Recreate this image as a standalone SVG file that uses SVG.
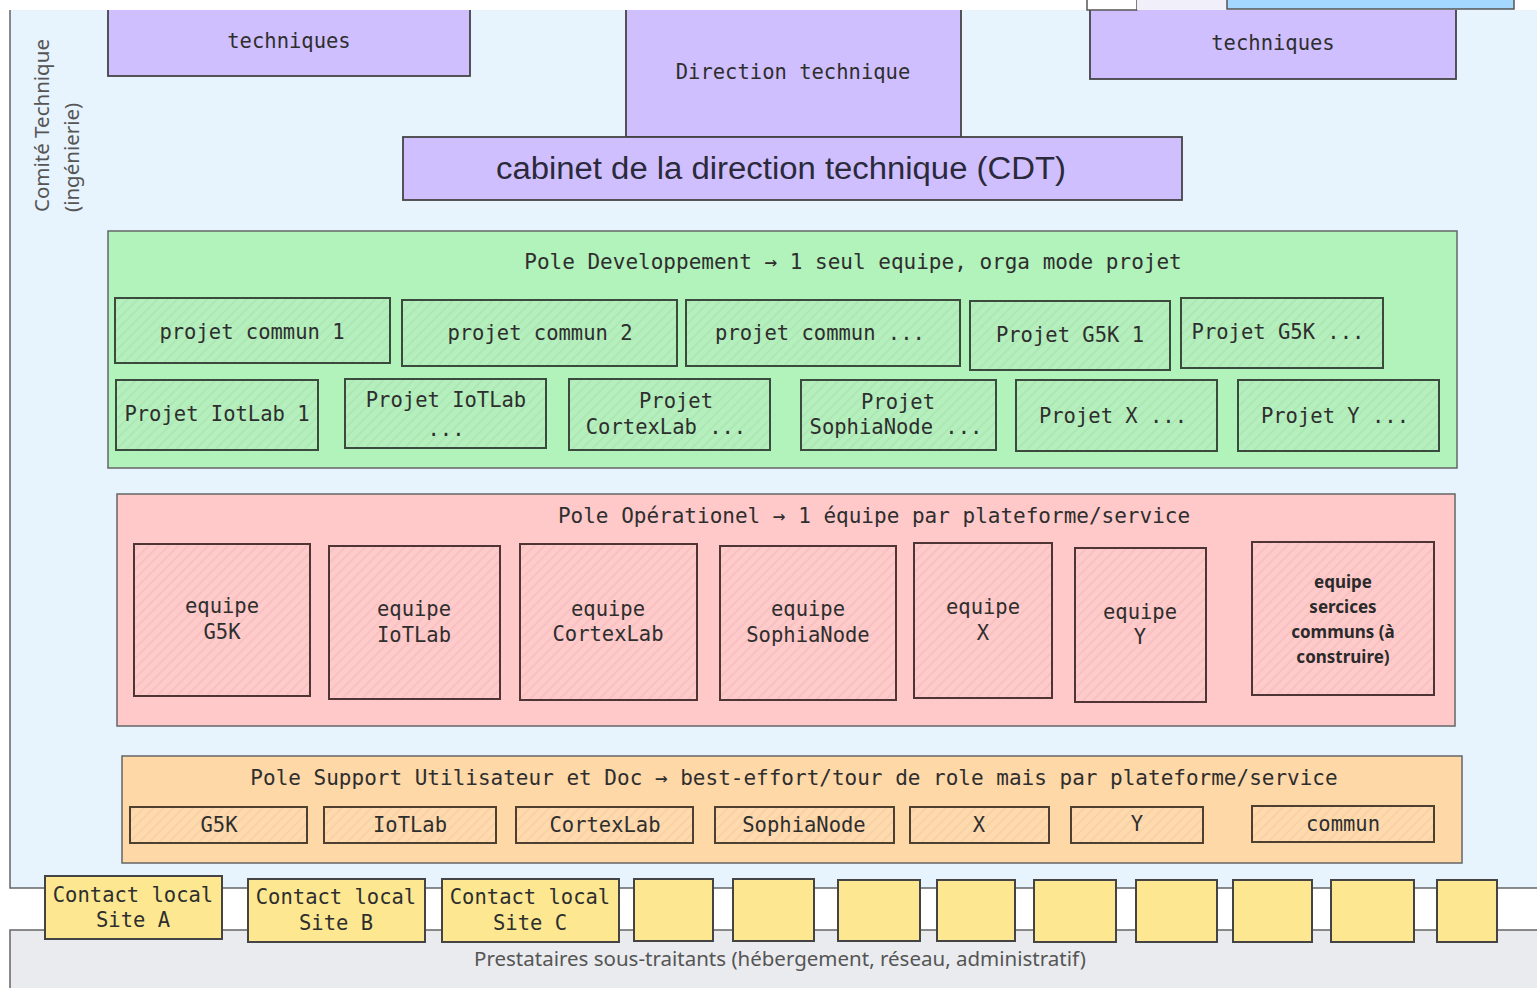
<svg xmlns="http://www.w3.org/2000/svg" width="1537" height="988" viewBox="0 0 1537 988">
<defs>
<pattern id="hatchG" patternUnits="userSpaceOnUse" width="7" height="7" patternTransform="rotate(45)">
<rect width="7" height="7" fill="#b5efbd"/><line x1="1" y1="0" x2="1" y2="7" stroke="#a3dfac" stroke-width="1"/>
</pattern>
<pattern id="hatchR" patternUnits="userSpaceOnUse" width="7" height="7" patternTransform="rotate(45)">
<rect width="7" height="7" fill="#ffcaca"/><line x1="1" y1="0" x2="1" y2="7" stroke="#f2b8b8" stroke-width="1"/>
</pattern>
<pattern id="hatchO" patternUnits="userSpaceOnUse" width="7" height="7" patternTransform="rotate(45)">
<rect width="7" height="7" fill="#ffdaae"/><line x1="1" y1="0" x2="1" y2="7" stroke="#f2ca98" stroke-width="1"/>
</pattern>
</defs>
<style>
.mono{font-family:"DejaVu Sans Mono","Liberation Mono",monospace;font-size:20.5px;fill:#2e2e2e;text-anchor:middle}
.title{font-family:"DejaVu Sans Mono","Liberation Mono",monospace;font-size:21px;fill:#2e2e2e;text-anchor:middle}
.sans{font-family:"Noto Sans","Liberation Sans",sans-serif;fill:#555}
.bold{font-family:"Noto Sans","Liberation Sans",sans-serif;font-weight:bold;font-size:17px;fill:#2a2a2a;text-anchor:middle}
.cont{stroke:#666;stroke-width:1.5}
.purple{fill:#d0bfff;stroke:#444;stroke-width:1.8}
.gbox{fill:url(#hatchG);stroke:#3a4a3c;stroke-width:2}
.rbox{fill:url(#hatchR);stroke:#4e3434;stroke-width:2}
.obox{fill:url(#hatchO);stroke:#4e4030;stroke-width:2}
.ybox{fill:#fde891;stroke:#444;stroke-width:2}
</style>

<g id="comite-technique">
<rect x="10" y="-10" width="1600" height="898" fill="#e7f3fd" class="cont"/>
<text class="sans" font-size="20.5" transform="translate(49,212) rotate(-90)">Comité Technique</text>
<text class="sans" font-size="20.5" transform="translate(79,212) rotate(-90)">(ingénierie)</text>
</g>

<g id="prestataires">
<rect x="10" y="930" width="1600" height="100" fill="#e9ebee" class="cont"/>
<text class="sans" font-size="19" x="780" y="966" text-anchor="middle" textLength="612" lengthAdjust="spacingAndGlyphs">Prestataires sous-traitants (hébergement, réseau, administratif)</text>
</g>

<g id="techniques-left">
<rect x="108" y="-10" width="362" height="86" class="purple"/>
<text class="mono" x="289" y="48">techniques</text>
</g>
<g id="direction-technique">
<rect x="626" y="-10" width="335" height="147" class="purple"/>
<text class="mono" x="793" y="79">Direction technique</text>
</g>
<g id="techniques-right">
<rect x="1090" y="-10" width="366" height="89" class="purple"/>
<text class="mono" x="1273" y="50">techniques</text>
</g>
<g id="cdt">
<rect x="403" y="137" width="779" height="63" class="purple"/>
<text x="781" y="179" font-family="Liberation Sans, Arial, sans-serif" font-size="31" fill="#2a2a3a" text-anchor="middle" textLength="570" lengthAdjust="spacingAndGlyphs">cabinet de la direction technique (CDT)</text>
</g>

<g id="top-strip">
<rect x="0" y="0" width="1537" height="10" fill="#ffffff"/>
<rect x="1087" y="-5" width="50" height="15" fill="#ffffff" stroke="#555" stroke-width="1.5"/>
<rect x="1137" y="-5" width="90" height="15" fill="#f1effa"/>
<rect x="1227" y="-5" width="287" height="14" fill="#a5d8ff" stroke="#555" stroke-width="1.5"/>
</g>

<g id="pole-developpement">
<rect x="108" y="231" width="1349" height="237" fill="#b2f2bb" class="cont"/>
<text class="title" x="853" y="269">Pole Developpement → 1 seul equipe, orga mode projet</text>
</g>
<g id="projet-commun-1"><rect x="115" y="298" width="275" height="65" class="gbox"/><text class="mono" x="252" y="339">projet commun 1</text></g>
<g id="projet-commun-2"><rect x="402" y="300" width="275" height="66" class="gbox"/><text class="mono" x="540" y="340">projet commun 2</text></g>
<g id="projet-commun-etc"><rect x="686" y="300" width="274" height="66" class="gbox"/><text class="mono" x="820" y="340">projet commun ...</text></g>
<g id="projet-g5k-1"><rect x="970" y="301" width="200" height="69" class="gbox"/><text class="mono" x="1070" y="342">Projet G5K 1</text></g>
<g id="projet-g5k-etc"><rect x="1181" y="298" width="202" height="70" class="gbox"/><text class="mono" x="1278" y="339">Projet G5K ...</text></g>
<g id="projet-iotlab-1"><rect x="116" y="380" width="202" height="70" class="gbox"/><text class="mono" x="217" y="421">Projet IotLab 1</text></g>
<g id="projet-iotlab-etc"><rect x="345" y="379" width="201" height="69" class="gbox"/><text class="mono" x="446" y="407">Projet IoTLab</text><text class="mono" x="446" y="436">...</text></g>
<g id="projet-cortexlab"><rect x="569" y="379" width="201" height="71" class="gbox"/><text class="mono" x="676" y="408">Projet</text><text class="mono" x="666" y="434">CortexLab ...</text></g>
<g id="projet-sophianode"><rect x="801" y="380" width="195" height="70" class="gbox"/><text class="mono" x="898" y="409">Projet</text><text class="mono" x="896" y="434">SophiaNode ...</text></g>
<g id="projet-x"><rect x="1016" y="380" width="201" height="71" class="gbox"/><text class="mono" x="1113" y="423">Projet X ...</text></g>
<g id="projet-y"><rect x="1238" y="380" width="201" height="71" class="gbox"/><text class="mono" x="1335" y="423">Projet Y ...</text></g>

<g id="pole-operationel">
<rect x="117" y="494" width="1338" height="232" fill="#ffc9c9" class="cont"/>
<text class="title" x="874" y="523">Pole Opérationel → 1 équipe par plateforme/service</text>
</g>
<g id="equipe-g5k"><rect x="134" y="544" width="176" height="152" class="rbox"/><text class="mono" x="222" y="613">equipe</text><text class="mono" x="222" y="639">G5K</text></g>
<g id="equipe-iotlab"><rect x="329" y="546" width="171" height="153" class="rbox"/><text class="mono" x="414" y="616">equipe</text><text class="mono" x="414" y="642">IoTLab</text></g>
<g id="equipe-cortexlab"><rect x="520" y="544" width="177" height="156" class="rbox"/><text class="mono" x="608" y="616">equipe</text><text class="mono" x="608" y="641">CortexLab</text></g>
<g id="equipe-sophianode"><rect x="720" y="546" width="176" height="154" class="rbox"/><text class="mono" x="808" y="616">equipe</text><text class="mono" x="808" y="642">SophiaNode</text></g>
<g id="equipe-x"><rect x="914" y="543" width="138" height="155" class="rbox"/><text class="mono" x="983" y="614">equipe</text><text class="mono" x="983" y="640">X</text></g>
<g id="equipe-y"><rect x="1075" y="548" width="131" height="154" class="rbox"/><text class="mono" x="1140" y="619">equipe</text><text class="mono" x="1140" y="644">Y</text></g>
<g id="equipe-services-communs"><rect x="1252" y="542" width="182" height="153" class="rbox"/>
<text class="bold" x="1343" y="588">equipe</text><text class="bold" x="1343" y="613">sercices</text><text class="bold" x="1343" y="638">communs (à</text><text class="bold" x="1343" y="663">construire)</text></g>

<g id="pole-support">
<rect x="122" y="756" width="1340" height="107" fill="#ffd8a8" class="cont"/>
<text class="title" x="794" y="785">Pole Support Utilisateur et Doc → best-effort/tour de role mais par plateforme/service</text>
</g>
<g id="support-g5k"><rect x="130" y="807" width="177" height="36" class="obox"/><text class="mono" x="219" y="832">G5K</text></g>
<g id="support-iotlab"><rect x="324" y="807" width="172" height="36" class="obox"/><text class="mono" x="410" y="832">IoTLab</text></g>
<g id="support-cortexlab"><rect x="516" y="807" width="177" height="36" class="obox"/><text class="mono" x="605" y="832">CortexLab</text></g>
<g id="support-sophianode"><rect x="715" y="807" width="179" height="36" class="obox"/><text class="mono" x="804" y="832">SophiaNode</text></g>
<g id="support-x"><rect x="910" y="807" width="139" height="36" class="obox"/><text class="mono" x="979" y="832">X</text></g>
<g id="support-y"><rect x="1071" y="807" width="132" height="36" class="obox"/><text class="mono" x="1137" y="831">Y</text></g>
<g id="support-commun"><rect x="1252" y="806" width="182" height="36" class="obox"/><text class="mono" x="1343" y="831">commun</text></g>

<g id="contacts">
<g id="contact-a"><rect x="45" y="876" width="177" height="63" class="ybox"/><text class="mono" x="133" y="902">Contact local</text><text class="mono" x="133" y="927">Site A</text></g>
<g id="contact-b"><rect x="248" y="879" width="177" height="63" class="ybox"/><text class="mono" x="336" y="904">Contact local</text><text class="mono" x="336" y="930">Site B</text></g>
<g id="contact-c"><rect x="442" y="879" width="177" height="63" class="ybox"/><text class="mono" x="530" y="904">Contact local</text><text class="mono" x="530" y="930">Site C</text></g>
<g id="contact-4"><rect x="634" y="879" width="79" height="62" class="ybox"/></g>
<g id="contact-5"><rect x="733" y="879" width="81" height="62" class="ybox"/></g>
<g id="contact-6"><rect x="838" y="880" width="82" height="61" class="ybox"/></g>
<g id="contact-7"><rect x="937" y="880" width="78" height="61" class="ybox"/></g>
<g id="contact-8"><rect x="1034" y="880" width="82" height="62" class="ybox"/></g>
<g id="contact-9"><rect x="1136" y="880" width="81" height="62" class="ybox"/></g>
<g id="contact-10"><rect x="1233" y="880" width="79" height="62" class="ybox"/></g>
<g id="contact-11"><rect x="1331" y="880" width="83" height="62" class="ybox"/></g>
<g id="contact-12"><rect x="1437" y="880" width="60" height="62" class="ybox"/></g>
</g>

<g id="connectors"></g>
</svg>
